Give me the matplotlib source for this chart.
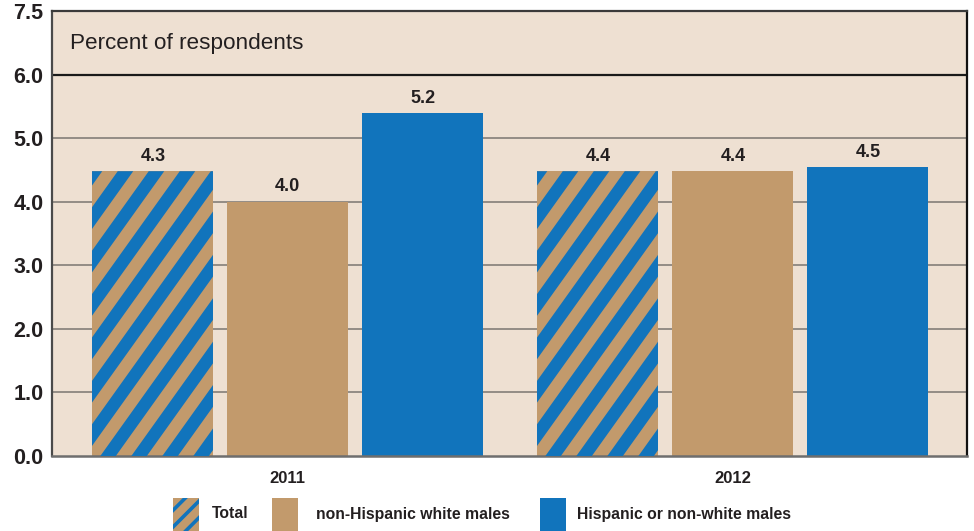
import matplotlib
matplotlib.use("Agg")
import matplotlib.pyplot as plt
from matplotlib.patches import Rectangle, Polygon
import numpy as np

# ---- data ----
groups = ["2011", "2012"]
series = ["Total", "non-Hispanic white males", "Hispanic or non-white males"]
total_heights = [4.48, 4.48]
nonhisp_heights = [4.0, 4.48]
hisp_heights = [5.39, 4.54]
total_labels = ["4.3", "4.4"]
nonhisp_labels = ["4.0", "4.4"]
hisp_labels = ["5.2", "4.5"]
ytick_values = [0, 1, 2, 3, 4, 5, 6, 7]
ytick_labels = ["0.0", "1.0", "2.0", "3.0", "4.0", "5.0", "6.0", "7.5"]
y_title = "Percent of respondents"

# ---- style ----
BG = "#EEE0D2"
TAN = "#C29A6C"
BLUE = "#1174BC"
TXT = "#231F20"
NARROW = ["Liberation Sans Narrow", "Liberation Sans", "DejaVu Sans"]
REG = ["Liberation Sans", "DejaVu Sans"]
plt.rcParams["font.family"] = NARROW
plt.rcParams["hatch.linewidth"] = 2.6

W, H = 974, 531
fig = plt.figure(figsize=(W / 100, H / 100), dpi=100)
fig.patch.set_facecolor("white")
ax_l, ax_r, ax_t, ax_b = 52, 967, 11, 456
ax = fig.add_axes([ax_l / W, 1 - ax_b / H, (ax_r - ax_l) / W, (ax_b - ax_t) / H])
ax.set_facecolor(BG)
xlim = (-0.530, 1.526)
ax.set_xlim(*xlim)
ax.set_ylim(0, 7)

# grid lines
for v in ytick_values[1:6]:
    ax.axhline(v, color="#8C8680", lw=1.3, zorder=1)
ax.axhline(6, color="#1A1A1A", lw=1.6, zorder=1)

pitch, width = 0.3034, 0.272
x = np.arange(len(groups))

px_per_x = (ax_r - ax_l) / (xlim[1] - xlim[0])
px_per_y = (ax_b - ax_t) / 7.0

all_series = [
    (total_heights, total_labels, TAN, True),
    (nonhisp_heights, nonhisp_labels, TAN, False),
    (hisp_heights, hisp_labels, BLUE, False),
]
for i, (hts, labs, col, striped) in enumerate(all_series):
    xs = x + (i - 1) * pitch
    bars = ax.bar(xs, hts, width=width, color=col, zorder=2, linewidth=0)
    for b, lab in zip(bars, labs):
        h = b.get_height()
        cx = b.get_x() + b.get_width() / 2
        ax.annotate(lab, (cx, h), xytext=(0, 4.5), textcoords="offset points",
                    ha="center", va="bottom", fontsize=13, fontweight="bold",
                    color=TXT, zorder=4)
        if striped:
            # diagonal blue stripes clipped to the bar
            P = 31 / px_per_x                  # horizontal period (data units)
            s = (px_per_y / 1.4) / px_per_x     # x shift per y unit (pixel slope 1.4)
            x0 = b.get_x()
            x1 = x0 + b.get_width()
            c = x0 + 8 / px_per_x
            while c > x0 - h * s - P:
                c -= P
            while c < x1:
                poly = Polygon([(c, 0), (c + P / 2, 0), (c + P / 2 + h * s, h), (c + h * s, h)],
                               closed=True, facecolor=BLUE, edgecolor="none", zorder=3)
                ax.add_patch(poly)
                poly.set_clip_path(b)
                c += P

# spines
for side, colr, lw in [("left", "#4A4A4A", 1.6), ("top", "#3A3A3A", 1.6),
                       ("right", "#111111", 1.6), ("bottom", "#6E6E6E", 1.8)]:
    ax.spines[side].set_color(colr)
    ax.spines[side].set_linewidth(lw)

ax.set_yticks(ytick_values)
ax.set_yticklabels(ytick_labels, fontsize=15.5, fontweight="bold", color=TXT)
ax.tick_params(axis="y", length=0, pad=6)
ax.set_xticks(x)
ax.set_xticklabels(groups, fontsize=12, fontweight="bold", color=TXT)
ax.tick_params(axis="x", length=0, pad=11)

ax.text((70 - ax_l) / (ax_r - ax_l), (ax_b - 43) / (ax_b - ax_t), y_title,
        transform=ax.transAxes, ha="left", va="center", fontsize=16.2,
        family=REG, color=TXT)

# ---- legend (manual) ----
leg_y0, leg_y1 = 498, 531
patch_specs = [(173, TAN, True), (272, TAN, False), (540, BLUE, False)]
text_x = [212, 316, 577]
for (px, colr, hatched), tx, name in zip(patch_specs, text_x, series):
    r = Rectangle((px / W, 1 - leg_y1 / H), 26 / W, (leg_y1 - leg_y0) / H,
                  transform=fig.transFigure, facecolor=colr,
                  edgecolor=BLUE if hatched else "none",
                  hatch="//" if hatched else None, linewidth=0)
    fig.add_artist(r)
    fig.text(tx / W, 1 - 514 / H, name, ha="left", va="center", fontsize=11.3,
             fontweight="bold", color=TXT)

fig.savefig("out.png", dpi=100, facecolor="white")
